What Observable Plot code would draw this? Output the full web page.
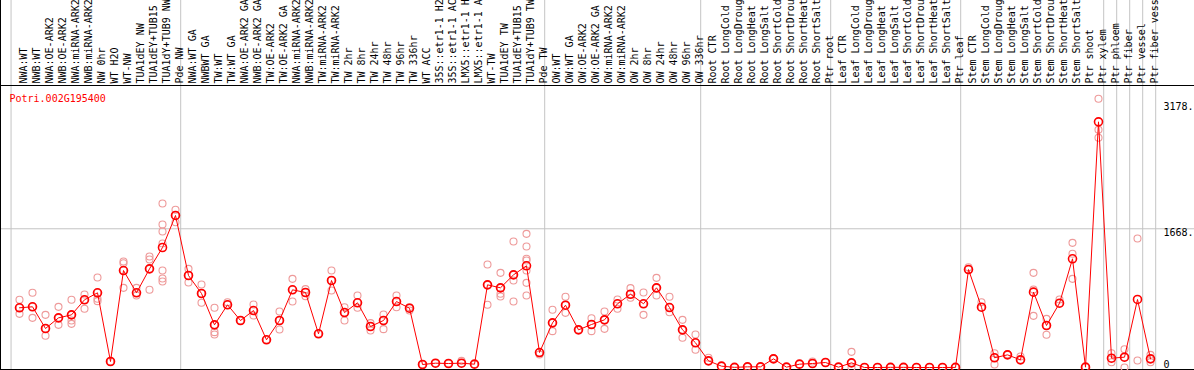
<!DOCTYPE html>
<html>
<head>
<meta charset="utf-8">
<script src="https://cdn.jsdelivr.net/npm/d3@7"></script>
<script src="https://cdn.jsdelivr.net/npm/@observablehq/plot@0.6"></script>
<style>
  body { margin: 0; background: white; }
  #chart svg { display: block; overflow: hidden; }
</style>
</head>
<body>
<div id="chart"></div>
<script>
const geneId = "Potri.002G195400";

const samples = [
  "NWA:WT","NWB:WT","NWA:OE-ARK2","NWB:OE-ARK2","NWA:miRNA-ARK2","NWB:miRNA-ARK2","NW 0hr","WT H2O","WT-NW","TUA1dEY NW","TUA1dEY+TUB15 NW","TUA1dY+TUB9 NW","Pde NW",
  "NWA:WT GA","NWBWT GA","TW:WT","TW:WT GA","NWA:OE-ARK2 GA","NWB:OE-ARK2 GA","TW:OE-ARK2","TW:OE-ARK2 GA","NWA:miRNA-ARK2 GA","NWB:miRNA-ARK2 GA","TW:miRNA-ARK2","TW:miRNA-ARK2 GA","TW 2hr","TW 8hr","TW 24hr","TW 48hr","TW 96hr","TW 336hr","WT ACC","35S::etr1-1 H2O","35S::etr1-1 ACC","LMX5::etr1-1 H2O","LMX5::etr1-1 ACC","WT-TW","TUA1dEY TW","TUA1dEY+TUB15 TW","TUA1dY+TUB9 TW","Pde TW",
  "OW:WT","OW:WT GA","OW:OE-ARK2","OW:OE-ARK2 GA","OW:miRNA-ARK2","OW:miRNA-ARK2 GA","OW 2hr","OW 8hr","OW 24hr","OW 48hr","OW 96hr","OW 336hr",
  "Root CTR","Root LongCold","Root LongDrought","Root LongHeat","Root LongSalt","Root ShortCold","Root ShortDrought","Root ShortHeat","Root ShortSalt","Ptr root",
  "Leaf CTR","Leaf LongCold","Leaf LongDrought","Leaf LongHeat","Leaf LongSalt","Leaf ShortCold","Leaf ShortDrought","Leaf ShortHeat","Leaf ShortSalt","Ptr leaf",
  "Stem CTR","Stem LongCold","Stem LongDrought","Stem LongHeat","Stem LongSalt","Stem ShortCold","Stem ShortDrought","Stem ShortHeat","Stem ShortSalt","Ptr shoot","Ptr xylem",
  "Ptr phloem","Ptr fiber","Ptr vessel","Ptr fiber vessel"
];

// number of samples in each vertical-gridline group
const groupSizes = [13, 28, 12, 10, 10, 11, 1, 1, 1, 1];

const means = [
  718,730,469,597,633,814,898,72,1166,898,1186,1443,1828,
  1106,890,513,754,565,685,333,565,934,902,405,1046,661,778,493,565,793,713,36,52,48,52,40,994,958,1114,1223,180,
  537,749,453,517,573,766,881,766,958,721,453,297,
  80,16,2,8,8,104,4,40,48,60,
  4,56,0,0,2,2,0,0,0,1,
  1178,725,117,152,92,906,505,773,1307,4,2954,
  112,124,818,104
];

const replicates = [
  [814,718,645],[898,730,597],[633,469,381],[729,597,513],[814,633,565,525],[878,814,706],[1082,898,826,798],[72,72],[1274,1254,1166,958],[958,898,866],[1334,1298,1186,934],[1972,1719,1635,1491,1166,1070,1034],[1896,1828,1747],
  [1186,1106,1022],[998,890,778],[718,513,425,397],[785,754],[565,565],[757,685,625],[333,333],[673,565,457],[1066,934,793],[942,902,857],[405,405],[1166,1046,926],[725,661,565],[866,778,718],[533,493,445],[637,565,461],[866,793,725],[725,713,685],[36,36],[52,52],[48,48],[80,52],[40,40],[1238,994,754],[1138,958,886,854],[1515,1114,1046,793],[1607,1455,1307,1287,1166,1018,866],[180,156],
  [694,537,437],[850,749,657],[453,453],[593,517,437],[673,573,465],[818,766,706],[954,881,838],[902,766,633],[1078,958,866],[850,721,665],[573,453,357],[397,297,213],
  [117,80],[16],[2],[8],[8],[104,110],[4],[40],[72,48],[60],
  [4],[188,56,0],[0],[0],[2],[2],[0],[0],[0],[1],
  [1206,1178],[785,725],[172,117,36],[160,152],[132,92],[1138,938,621],[585,505,393],[818,773],[1499,1367,1066],[4],[3231,2858,2762],
  [172,112,64],[220,124,0],[1551,84],[152,104,64]
];

const yTickValues = [3178, 1668, 0];
const yTickLabels = ["3178.", "1668.", "0"];

// build tables
const rows = samples.map((s, i) => ({i, label: s, mean: means[i]}));
const repRows = replicates.flatMap((arr, i) => arr.map(v => ({i, v})));
let acc = 0;
const boundaries = [-0.65];
for (const n of groupSizes) { acc += n; boundaries.push(acc - 1 + 0.4); }
const ticks = yTickValues.map((v, k) => ({v, label: yTickLabels[k]}));

const W = 1194, H = 370;
const step = 13, x0 = 19;

const chart = Plot.plot({
  width: W,
  height: H,
  marginTop: 85,
  marginBottom: 1,
  marginLeft: 0,
  marginRight: 0,
  x: {type: "linear", domain: [-x0 / step, (W - x0) / step], axis: null},
  y: {domain: [0, 3178], range: [367, 102.7], axis: null},
  style: {fontFamily: "'DejaVu Sans Mono', monospace", fontSize: "10px", background: "white", color: "black"},
  marks: [
    Plot.ruleX(boundaries, {x: d => d, stroke: "#c4c4c4", strokeWidth: 1, strokeOpacity: 1, insetTop: -90, insetBottom: -5}),
    Plot.ruleY([1668], {stroke: "#c4c4c4", strokeWidth: 1, strokeOpacity: 1}),
    Plot.frame({stroke: "black", insetTop: -90, insetRight: -5}),
    Plot.frame({stroke: "black", insetRight: -5}),
    Plot.text(rows, {x: "i", text: "label", frameAnchor: "top", dy: -2, rotate: -90, textAnchor: "start", fill: "black"}),
    Plot.text([geneId], {frameAnchor: "top-left", dx: 9, dy: 9, textAnchor: "start", fill: "#ff0000"}),
    Plot.text(ticks.filter(d => d.v !== 0), {y: "v", text: "label", frameAnchor: "right", dx: -31, textAnchor: "start", lineAnchor: "top", fill: "black"}),
    Plot.text(ticks.filter(d => d.v === 0), {y: "v", text: "label", frameAnchor: "right", dx: -31, textAnchor: "start", lineAnchor: "bottom", fill: "black"}),
    Plot.dot(repRows, {x: "i", y: "v", r: 3.5, stroke: "#ee9a9a", strokeWidth: 1.1, fill: "none"}),
    Plot.line(rows, {x: "i", y: "mean", stroke: "#ff0000", strokeWidth: 1}),
    Plot.dot(rows, {x: "i", y: "mean", r: 4, stroke: "#ff0000", strokeWidth: 1.6, fill: "none"})
  ]
});
document.getElementById("chart").appendChild(chart);
</script>
</body>
</html>
